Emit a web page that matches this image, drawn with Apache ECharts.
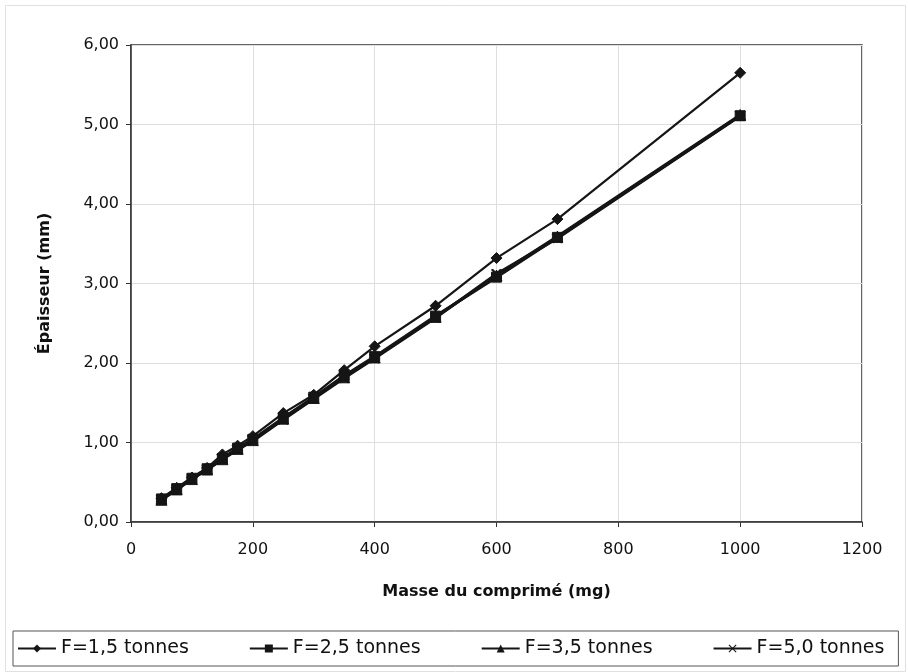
<!DOCTYPE html>
<html>
<head>
<meta charset="utf-8">
<script src="https://cdn.jsdelivr.net/npm/echarts@6/dist/echarts.min.js"></script>
<style>
html,body{margin:0;padding:0;background:#fff;}
#chart{width:908px;height:672px;}
</style>
</head>
<body>
<div id="chart"></div>
<script>
const masses = [50, 75, 100, 125, 150, 175, 200, 250, 300, 350, 400, 500, 600, 700, 1000];
const f15 = [0.30, 0.43, 0.56, 0.68, 0.85, 0.96, 1.08, 1.37, 1.60, 1.91, 2.21, 2.72, 3.32, 3.81, 5.65];
const f25 = [0.29, 0.42, 0.55, 0.67, 0.80, 0.93, 1.04, 1.31, 1.57, 1.84, 2.08, 2.59, 3.08, 3.58, 5.11];
const f35 = [0.28, 0.41, 0.54, 0.66, 0.79, 0.92, 1.03, 1.30, 1.56, 1.82, 2.07, 2.58, 3.10, 3.59, 5.12];
const f50 = [0.28, 0.41, 0.54, 0.66, 0.79, 0.91, 1.02, 1.29, 1.55, 1.81, 2.06, 2.57, 3.12, 3.57, 5.11];
const seriesNames = ['F=1,5 tonnes', 'F=2,5 tonnes', 'F=3,5 tonnes', 'F=5,0 tonnes'];
const xTitle = 'Masse du comprimé (mg)';
const yTitle = 'Épaisseur (mm)';

const crossPath = 'path://M1,0L5,4L9,0L10,1L6,5L10,9L9,10L5,6L1,10L0,9L4,5L0,1Z';
const symbols = ['diamond', 'rect', 'triangle', crossPath];
const sizes = [11, 10, 11, 10];
const widths = [2.2, 3, 3, 3];
const allData = [f15, f25, f35, f50];
const ink = '#151515';
const font = 'DejaVu Sans';

const chart = echarts.init(document.getElementById('chart'));
chart.setOption({
  backgroundColor: '#fff',
  animation: false,
  graphic: [{
    type: 'rect', left: 3, top: 3, shape: {width: 900, height: 666},
    style: {fill: 'none', stroke: '#e0e0e0', lineWidth: 1}, silent: true
  }],
  grid: {left: 131, right: 46, top: 45, bottom: 150, show: true, borderColor: '#333', borderWidth: 1.5},
  xAxis: {
    type: 'value', min: 0, max: 1200, interval: 200,
    name: xTitle, nameLocation: 'middle', nameGap: 62,
    nameTextStyle: {fontFamily: font, fontWeight: 'bold', fontSize: 16, color: '#111'},
    axisLine: {show: true, lineStyle: {color: '#333', width: 1.5}},
    axisTick: {show: true, inside: false, length: 5, lineStyle: {color: '#333'}},
    axisLabel: {fontFamily: font, fontSize: 16, color: '#111', margin: 20,
      formatter: v => String(v)},
    splitLine: {show: true, lineStyle: {color: '#dedede', width: 1}}
  },
  yAxis: {
    type: 'value', min: 0, max: 6, interval: 1,
    name: yTitle, nameLocation: 'middle', nameGap: 78, nameRotate: 90,
    nameTextStyle: {fontFamily: font, fontWeight: 'bold', fontSize: 16, color: '#111'},
    axisLine: {show: true, lineStyle: {color: '#333', width: 1.5}},
    axisTick: {show: true, inside: false, length: 5, lineStyle: {color: '#333'}},
    axisLabel: {fontFamily: font, fontSize: 16, color: '#111', margin: 12,
      formatter: v => v.toFixed(2).replace('.', ',')},
    splitLine: {show: true, lineStyle: {color: '#dedede', width: 1}}
  },
  legend: {
    show: true, left: 13, top: 631,
    data: seriesNames,
    orient: 'horizontal',
    itemWidth: 38, itemHeight: 10, itemGap: 60,
    padding: [8, 14, 8, 4],
    borderColor: '#555', borderWidth: 1,
    textStyle: {fontFamily: font, fontSize: 19, color: '#111'}
  },
  series: seriesNames.map((name, i) => ({
    name: name, type: 'line',
    data: masses.map((m, j) => [m, allData[i][j]]),
    symbol: symbols[i], symbolSize: sizes[i], showSymbol: true,
    lineStyle: {color: ink, width: widths[i]},
    itemStyle: {color: ink, borderColor: ink},
    z: 10 - i
  }))
});
</script>
</body>
</html>
